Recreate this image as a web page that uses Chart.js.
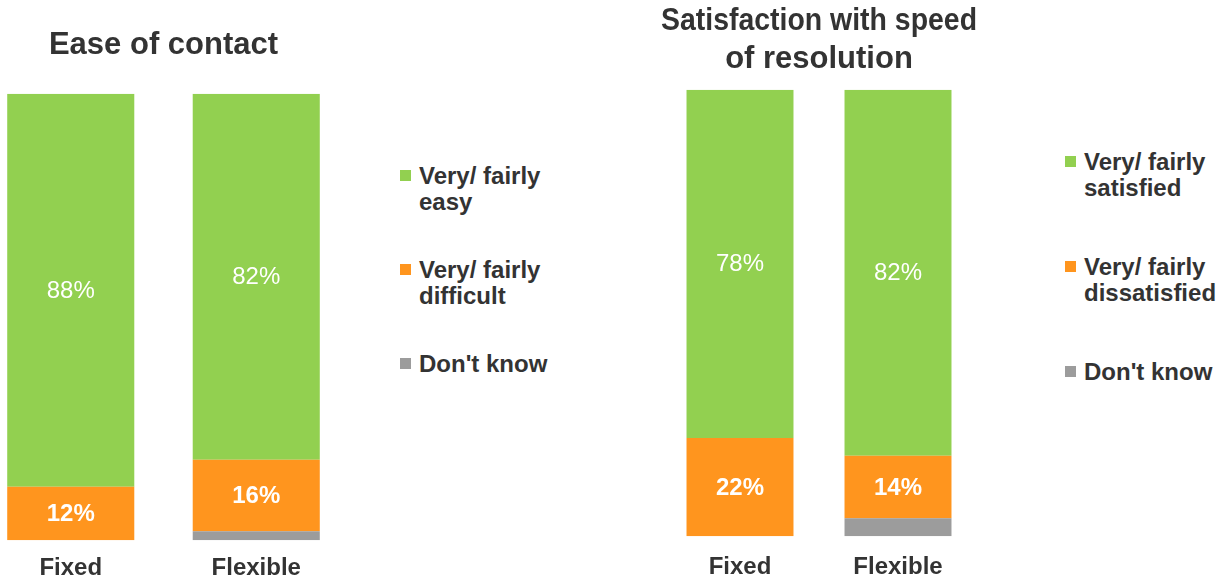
<!DOCTYPE html>
<html>
<head>
<meta charset="utf-8">
<script src="https://cdn.jsdelivr.net/npm/chart.js@4"></script>
<style>
  body { margin: 0; background: #fff; width: 1217px; height: 581px; overflow: hidden; position: relative; font-family: "Liberation Sans", Arial, sans-serif; }
  canvas { position: absolute; top: 0; }
  #easeCanvas { left: -30px; }
  #speedCanvas { left: 640px; }
  .legend { position: absolute; color: #333; font-weight: bold; font-size: 24px; line-height: 26px; }
  .legend .item { position: relative; padding-left: 19px; }
  .legend .box { position: absolute; left: 0; top: 7px; width: 11px; height: 11px; }
  #easeLegend { left: 400px; top: 163px; }
  #easeLegend .item { margin-bottom: 42px; }
  #speedLegend { left: 1065px; top: 149px; }
  #speedLegend .item { margin-bottom: 53px; }
</style>
</head>
<body>
<canvas id="easeCanvas" width="400" height="597"></canvas>
<canvas id="speedCanvas" width="360" height="599"></canvas>
<div class="legend" id="easeLegend"></div>
<div class="legend" id="speedLegend"></div>
<script>
const categories = ["Fixed", "Flexible"];

// Ease of contact (%)
const easeEasy = [88, 82];
const easeDifficult = [12, 16];
const easeDontKnow = [0, 2];
const easeLabels = [["Very/ fairly", "easy"], ["Very/ fairly", "difficult"], ["Don't know"]];

// Satisfaction with speed of resolution (%)
const speedSatisfied = [78, 82];
const speedDissatisfied = [22, 14];
const speedDontKnow = [0, 4];
const speedLabels = [["Very/ fairly", "satisfied"], ["Very/ fairly", "dissatisfied"], ["Don't know"]];

const GREEN = "#92d050";
const ORANGE = "#ff951e";
const GREY = "#9c9c9c";
const TEXT = "#333333";
const FONT = "'Liberation Sans', Arial, sans-serif";

// writes the % inside each segment
const valueLabels = {
    id: "valueLabels",
    afterDatasetsDraw(chart) {
        const ctx = chart.ctx;
        chart.data.datasets.forEach((ds, i) => {
            if (!ds.showValues) return;
            const meta = chart.getDatasetMeta(i);
            meta.data.forEach((bar, j) => {
                const v = ds.data[j];
                if (!v) return;
                ctx.save();
                ctx.fillStyle = "#ffffff";
                ctx.font = (ds.boldValues ? "bold " : "") + "24px " + FONT;
                ctx.textAlign = "center";
                ctx.textBaseline = "middle";
                ctx.fillText(v + "%", bar.x, (bar.y + bar.base) / 2 + 1);
                ctx.restore();
            });
        });
    }
};

function makeChart(canvasId, title, titlePad, data, barPct, padLeft, padRight, tickPad) {
    return new Chart(document.getElementById(canvasId), {
        type: "bar",
        data: {
            labels: categories,
            datasets: [
                { data: data[2], backgroundColor: GREY, showValues: false },
                { data: data[1], backgroundColor: ORANGE, showValues: true, boldValues: true },
                { data: data[0], backgroundColor: GREEN, showValues: true, boldValues: false }
            ]
        },
        options: {
            responsive: false,
            animation: false,
            layout: { padding: { left: padLeft, right: padRight, top: 0, bottom: 0 } },
            datasets: { bar: { barPercentage: barPct, categoryPercentage: 1, borderWidth: 0 } },
            plugins: {
                legend: { display: false },
                tooltip: { enabled: false },
                title: {
                    display: true,
                    text: title,
                    color: TEXT,
                    font: { family: FONT, size: 31, weight: "bold", lineHeight: 1.22 },
                    padding: titlePad
                }
            },
            scales: {
                x: {
                    stacked: true,
                    grid: { display: false, drawTicks: false },
                    border: { display: false },
                    ticks: { color: TEXT, padding: tickPad, font: { family: FONT, size: 24, weight: "bold" } }
                },
                y: { stacked: true, display: false, min: 0, max: 100 }
            }
        },
        plugins: [valueLabels]
    });
}

function buildLegend(elId, labels) {
    const el = document.getElementById(elId);
    const colors = [GREEN, ORANGE, GREY];
    labels.forEach((lines, i) => {
        const item = document.createElement("div");
        item.className = "item";
        item.innerHTML = '<span class="box" style="background:' + colors[i] + '"></span>' + lines.join("<br>");
        el.appendChild(item);
    });
}

makeChart("easeCanvas", "Ease of contact", { top: 27, bottom: 29 },
    [easeEasy, easeDifficult, easeDontKnow], 0.685, 8, 21, 14);
makeChart("speedCanvas", ["Satisfaction with speed", "of resolution"], { top: 3, bottom: 11 },
    [speedSatisfied, speedDissatisfied, speedDontKnow], 0.677, 21, 23, 17);

buildLegend("easeLegend", easeLabels);
buildLegend("speedLegend", speedLabels);
</script>
</body>
</html>
